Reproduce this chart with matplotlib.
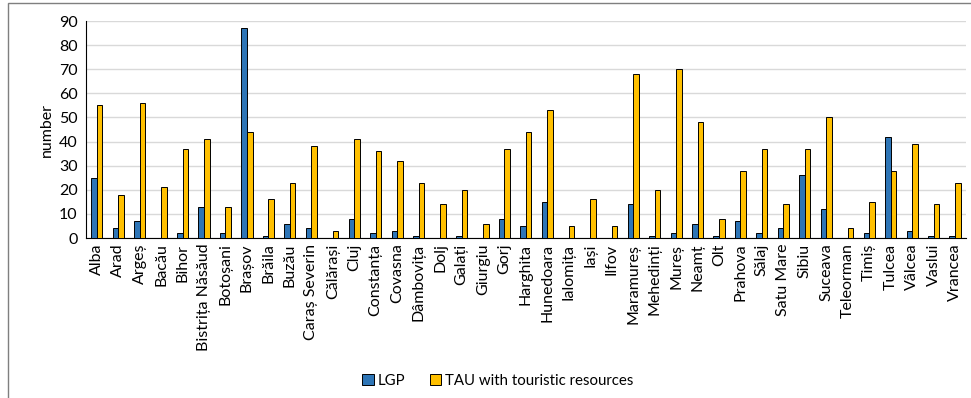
import numpy as np
import matplotlib
matplotlib.use("Agg")
import matplotlib.pyplot as plt
from matplotlib.patches import Rectangle

counties = [
    "Alba", "Arad", "Argeș", "Bacău", "Bihor", "Bistrița Năsăud", "Botoșani",
    "Brașov", "Brăila", "Buzău", "Caraș Severin", "Călărași", "Cluj",
    "Constanța", "Covasna", "Dâmbovița", "Dolj", "Galați", "Giurgiu", "Gorj",
    "Harghita", "Hunedoara", "Ialomița", "Iași", "Ilfov", "Maramureș",
    "Mehedinți", "Mureș", "Neamț", "Olt", "Prahova", "Sălaj", "Satu Mare",
    "Sibiu", "Suceava", "Teleorman", "Timiș", "Tulcea", "Vâlcea", "Vaslui",
    "Vrancea",
]
lgp = [25, 4, 7, 0, 2, 13, 2, 87, 1, 6, 4, 0, 8, 2, 3, 1, 0, 1, 0, 8,
       5, 15, 0, 0, 0, 14, 1, 2, 6, 1, 7, 2, 4, 26, 12, 0, 2, 42, 3, 1, 1]
tau = [55, 18, 56, 21, 37, 41, 13, 44, 16, 23, 38, 3, 41, 36, 32, 23, 14, 20, 6, 37,
       44, 53, 5, 16, 5, 68, 20, 70, 48, 8, 28, 37, 14, 37, 50, 4, 15, 28, 39, 14, 23]

plt.rcParams["font.family"] = ["Lato", "DejaVu Sans"]

fig = plt.figure(figsize=(9.71, 3.98), dpi=100)
ax = fig.add_axes([0.0886, 0.402, 0.906, 0.545])

x = np.arange(len(counties))
w = 0.26
ax.bar(x - w / 2, lgp, w, color="#2E75B6", edgecolor="black", linewidth=0.7,
       label="LGP", zorder=3)
ax.bar(x + w / 2, tau, w, color="#FFC000", edgecolor="black", linewidth=0.7,
       label="TAU with touristic resources", zorder=3)

ax.set_xlim(-0.5, len(counties) - 0.5)
ax.set_ylim(0, 90)
ax.set_yticks(range(0, 91, 10))
ax.set_xticks(x)
ax.set_xticklabels(counties, rotation=90, fontsize=11.5)
ax.tick_params(axis="y", labelsize=11.5, length=0, pad=6)
ax.tick_params(axis="x", length=0, pad=4)
ax.set_ylabel("number", fontsize=11.5, labelpad=4)
ax.yaxis.grid(True, color="#d9d9d9", linewidth=1, zorder=0)

for side in ["top", "right"]:
    ax.spines[side].set_visible(False)
ax.spines["left"].set_color("black")
ax.spines["bottom"].set_color("black")

fig.legend(loc="center", bbox_to_anchor=(0.513, 0.043), ncol=2, frameon=False,
           fontsize=10.8, handlelength=0.75, handleheight=0.75, columnspacing=1.6,
           handletextpad=0.3)

fig.patches.append(Rectangle((0.008, -0.1), 1.1, 1.093, transform=fig.transFigure,
                             fill=False, edgecolor="#7f7f7f", linewidth=1))

fig.savefig("out.png", dpi=100)
